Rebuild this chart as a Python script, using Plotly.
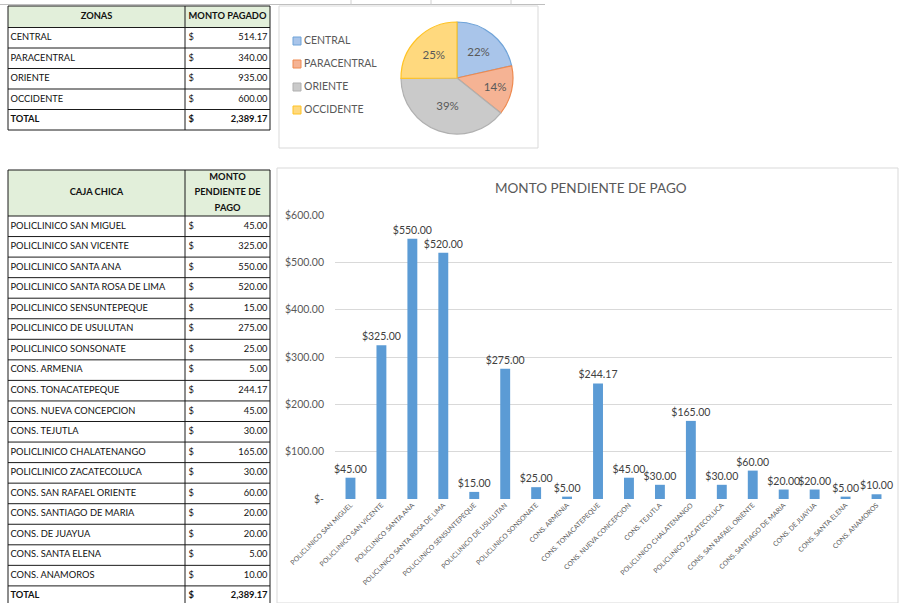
import plotly.graph_objects as go

# ---------------- data ----------------
zonas = ["CENTRAL", "PARACENTRAL", "ORIENTE", "OCCIDENTE"]
monto_pagado = [514.17, 340.00, 935.00, 600.00]
total_pagado = 2389.17

caja_chica = [
    "POLICLINICO SAN MIGUEL", "POLICLINICO SAN VICENTE", "POLICLINICO SANTA ANA",
    "POLICLINICO SANTA ROSA DE LIMA", "POLICLINICO SENSUNTEPEQUE", "POLICLINICO DE USULUTAN",
    "POLICLINICO SONSONATE", "CONS. ARMENIA", "CONS. TONACATEPEQUE", "CONS. NUEVA CONCEPCION",
    "CONS. TEJUTLA", "POLICLINICO CHALATENANGO", "POLICLINICO ZACATECOLUCA",
    "CONS. SAN RAFAEL ORIENTE", "CONS. SANTIAGO DE MARIA", "CONS. DE JUAYUA",
    "CONS. SANTA ELENA", "CONS. ANAMOROS",
]
monto_pendiente = [45.00, 325.00, 550.00, 520.00, 15.00, 275.00, 25.00, 5.00, 244.17,
                   45.00, 30.00, 165.00, 30.00, 60.00, 20.00, 20.00, 5.00, 10.00]
total_pendiente = 2389.17

y_tick_vals = [0, 100, 200, 300, 400, 500, 600]
y_tick_text = ["$-", "$100.00", "$200.00", "$300.00", "$400.00", "$500.00", "$600.00"]

pie_fill = ["#a9c5ea", "#f5b394", "#cacaca", "#ffd97e"]
pie_line = ["#6fa3d8", "#ee8a50", "#b0b0b0", "#ffc324"]

# ---------------- helpers ----------------
W, H = 899, 603
FONT = "Lato"


def fx(x):
    return x / W


def fy(y):
    return 1 - y / H


fig = go.Figure()
shapes = []

# faint spreadsheet gridline along the top
shapes.append(dict(type="line", xref="x3", yref="y3", x0=0, x1=545, y0=4.5, y1=4.5,
                   line=dict(color="#bfbfbf", width=1), layer="below"))
for gx in (351, 431, 511):
    shapes.append(dict(type="line", xref="x3", yref="y3", x0=gx, x1=gx, y0=0, y1=4.5,
                       line=dict(color="#d0d0d0", width=1), layer="below"))

# ---------------- tables (drawn on a pixel-unit overlay axis) ----------------
tx, ty, tt, tp = [], [], [], []


def cell(x, y, text, pos, bold=False):
    tx.append(x)
    ty.append(y)
    tt.append(f"<b>{text}</b>" if bold else text)
    tp.append(pos)


def table(x0, xc, x1, head_top, head_bot, row_h, names, values, total, head_left, head_right_lines):
    shapes.append(dict(type="rect", xref="x3", yref="y3", x0=x0, x1=x1, y0=head_top, y1=head_bot,
                       fillcolor="#e2efda", line=dict(width=0), layer="below"))
    n = len(names) + 1
    bottom = head_bot + n * row_h
    ys = [head_top, head_bot] + [head_bot + row_h * (i + 1) for i in range(n)]
    for yv in ys:
        shapes.append(dict(type="line", xref="x3", yref="y3", x0=x0, x1=x1, y0=yv, y1=yv,
                           line=dict(color="#1a1a1a", width=1)))
    for xv in (x0, xc, x1):
        shapes.append(dict(type="line", xref="x3", yref="y3", x0=xv, x1=xv, y0=head_top, y1=bottom,
                           line=dict(color="#1a1a1a", width=1)))
    cell((x0 + xc) / 2, (head_top + head_bot) / 2, head_left, "middle center", True)
    k = len(head_right_lines)
    lh = (head_bot - head_top) / k
    for j, t in enumerate(head_right_lines):
        cell((xc + x1) / 2, head_top + lh * (j + 0.5), t, "middle center", True)
    for i, (nm, v) in enumerate(zip(names + ["TOTAL"], values + [total])):
        yc = head_bot + row_h * (i + 0.5)
        bold = nm == "TOTAL"
        cell(x0 + 2.5, yc, nm, "middle right", bold)
        cell(xc + 3.5, yc, "$", "middle right", bold)
        cell(x1 - 2.5, yc, f"{v:,.2f}", "middle left", bold)


table(8, 185, 270, 6, 27.5, 20.5, zonas, monto_pagado, total_pagado, "ZONAS", ["MONTO PAGADO"])
table(8, 185, 270, 170, 216, 20.55, caja_chica, monto_pendiente, total_pendiente,
      "CAJA CHICA", ["MONTO", "PENDIENTE DE", "PAGO"])

fig.add_trace(go.Scatter(x=tx, y=ty, text=tt, mode="text", textposition=tp,
                         textfont=dict(family=FONT, size=9.3, color="#111111"),
                         xaxis="x3", yaxis="y3", hoverinfo="skip", showlegend=False))

# ---------------- pie chart ----------------
shapes.append(dict(type="rect", xref="paper", yref="paper", x0=fx(279), x1=fx(538), y0=fy(148), y1=fy(6),
                   line=dict(color="#d9d9d9", width=1), fillcolor="white", layer="below"))
fig.add_trace(go.Pie(
    labels=zonas, values=monto_pagado, sort=False, direction="clockwise", rotation=0,
    marker=dict(colors=pie_fill, line=dict(color=pie_line, width=1.2)),
    textinfo="percent", texttemplate="%{percent:.0%}", textposition="inside",
    insidetextorientation="horizontal",
    textfont=dict(family=FONT, size=11.5, color="#595959"),
    domain=dict(x=[fx(401), fx(513)], y=[fy(134), fy(22)]),
    showlegend=False, hoverinfo="label+value+percent",
))
lx, ly, lt = [], [], []
for i, z in enumerate(zonas):
    yc = 41 + 23 * i
    shapes.append(dict(type="rect", xref="x3", yref="y3", x0=293, x1=301, y0=yc - 4, y1=yc + 4,
                       fillcolor=pie_fill[i], line=dict(color=pie_line[i], width=1)))
    lx.append(304)
    ly.append(yc)
    lt.append(z)
fig.add_trace(go.Scatter(x=lx, y=ly, text=lt, mode="text", textposition="middle right",
                         textfont=dict(family=FONT, size=10.5, color="#595959"),
                         xaxis="x3", yaxis="y3", hoverinfo="skip", showlegend=False))

# ---------------- bar chart ----------------
shapes.append(dict(type="rect", xref="paper", yref="paper", x0=fx(277), x1=fx(898), y0=fy(603), y1=fy(168),
                   line=dict(color="#d9d9d9", width=1), fillcolor="rgba(0,0,0,0)"))
fig.add_trace(go.Bar(
    x=caja_chica, y=monto_pendiente, marker=dict(color="#5b9bd5", line=dict(width=0)),
    texttemplate="$%{y:,.2f}", textposition="outside", constraintext="none", cliponaxis=False,
    textfont=dict(family=FONT, size=10.5, color="#404040"),
    xaxis="x", yaxis="y", showlegend=False,
))

fig.add_annotation(x=fx(591), y=fy(188), xref="paper", yref="paper", text="MONTO PENDIENTE DE PAGO",
                   showarrow=False, font=dict(family=FONT, size=13.5, color="#595959"),
                   xanchor="center", yanchor="middle")

fig.update_layout(
    width=W, height=H, margin=dict(l=0, r=0, t=0, b=0, autoexpand=False),
    paper_bgcolor="white", plot_bgcolor="rgba(0,0,0,0)",
    bargap=0.68, shapes=shapes,
    xaxis=dict(domain=[fx(335), fx(892)], anchor="y", range=[-0.5, len(caja_chica) - 0.5],
               tickangle=-45, tickfont=dict(family=FONT, size=6.8, color="#595959"),
               showgrid=False, showline=False, zeroline=False, ticks="", automargin=False),
    yaxis=dict(domain=[fy(499), fy(215)], anchor="x", range=[0, 600],
               tickvals=y_tick_vals, ticktext=y_tick_text,
               tickfont=dict(family=FONT, size=10.5, color="#595959"),
               gridcolor="#d9d9d9", gridwidth=1, zeroline=False, showline=False, ticks="",
               ticklabelstandoff=10, automargin=False),
    xaxis3=dict(domain=[0, 1], anchor="y3", range=[0, W], visible=False, fixedrange=True,
                automargin=False),
    yaxis3=dict(domain=[0, 1], anchor="x3", range=[H, 0], visible=False, fixedrange=True,
                automargin=False),
    font=dict(family=FONT),
)

fig.write_html("out.html", config={"displayModeBar": False},
               post_script="document.body.style.margin='0';document.body.style.overflow='hidden';")
